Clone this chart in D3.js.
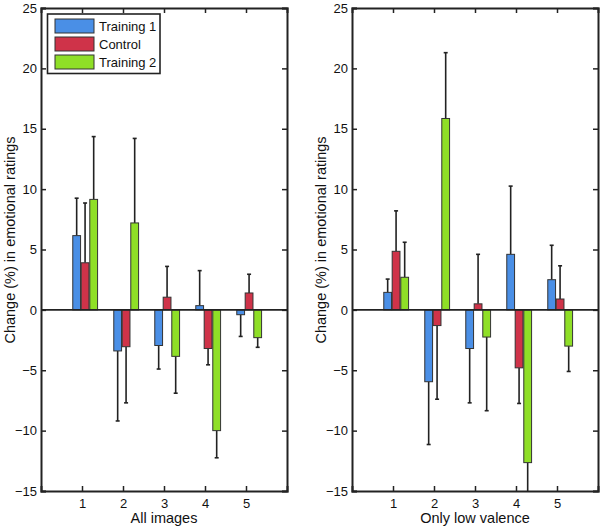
<!DOCTYPE html>
<html><head><meta charset="utf-8">
<script src="https://cdn.jsdelivr.net/npm/d3@7"></script>
<style>
body{margin:0;background:#fff;}
text{font-family:"Liberation Sans",Arial,Helvetica,sans-serif;fill:#111;}
</style></head>
<body><svg id="c" width="600" height="527"></svg>
<script>
const categories = [1, 2, 3, 4, 5];
const seriesNames = ["Training 1", "Control", "Training 2"];
const seriesColors = ["#4a8fe6", "#cf3349", "#8fdf27"];
const yTicks = [-15, -10, -5, 0, 5, 10, 15, 20, 25];

// Panel 1: All images
const allTraining1 = [6.15, -3.4, -2.95, 0.35, -0.4];
const allControl   = [3.9, -3.05, 1.05, -3.2, 1.4];
const allTraining2 = [9.15, 7.2, -3.85, -10.0, -2.3];
const allTraining1Err = [3.1, 5.8, 1.95, 2.9, 1.8];
const allControlErr   = [4.95, 4.65, 2.55, 1.35, 1.55];
const allTraining2Err = [5.2, 7.0, 3.05, 2.25, 0.8];

// Panel 2: Only low valence
const lowTraining1 = [1.45, -5.95, -3.2, 4.6, 2.5];
const lowControl   = [4.85, -1.3, 0.5, -4.8, 0.9];
const lowTraining2 = [2.7, 15.85, -2.25, -12.65, -3.0];
const lowTraining1Err = [1.1, 5.2, 4.5, 5.65, 2.85];
const lowControlErr   = [3.35, 6.1, 4.1, 2.95, 2.75];
const lowTraining2Err = [2.9, 5.45, 6.1, 4.5, 2.1];

const panels = [
  {x0: 41, x1: 287, label: "All images",
   vals: [allTraining1, allControl, allTraining2],
   errs: [allTraining1Err, allControlErr, allTraining2Err], legend: true},
  {x0: 352, x1: 598, label: "Only low valence",
   vals: [lowTraining1, lowControl, lowTraining2],
   errs: [lowTraining1Err, lowControlErr, lowTraining2Err], legend: false}
];

const svg = d3.select("#c");
const yTop = 8, yBot = 491;
const y = d3.scaleLinear().domain([-15, 25]).range([yBot, yTop]);
const offsets = [-0.225, -0.02, 0.19];
const barW = 0.19;
const ink = "#222";

panels.forEach((p, pi) => {
  const x = d3.scaleLinear().domain([0, 6]).range([p.x0, p.x1]);
  const g = svg.append("g");
  const clipId = "clip" + pi;
  svg.append("clipPath").attr("id", clipId).append("rect")
    .attr("x", p.x0).attr("y", yTop).attr("width", p.x1 - p.x0).attr("height", yBot - yTop);
  const plot = g.append("g").attr("clip-path", `url(#${clipId})`);

  // error bars (one-sided, away from zero)
  p.vals.forEach((vals, si) => {
    vals.forEach((v, i) => {
      const cx = x(categories[i] + offsets[si] + barW / 2);
      const e = p.errs[si][i];
      const end = v >= 0 ? v + e : v - e;
      plot.append("line").attr("x1", cx).attr("x2", cx)
        .attr("y1", y(v)).attr("y2", y(end))
        .attr("stroke", ink).attr("stroke-width", 1.6);
      plot.append("line").attr("x1", cx - 2).attr("x2", cx + 2)
        .attr("y1", y(end)).attr("y2", y(end))
        .attr("stroke", ink).attr("stroke-width", 1.6);
    });
  });

  // bars
  p.vals.forEach((vals, si) => {
    plot.selectAll(null).data(vals).enter().append("rect")
      .attr("x", (v, i) => x(categories[i] + offsets[si]))
      .attr("width", x(barW) - x(0))
      .attr("y", v => y(Math.max(0, v)))
      .attr("height", v => Math.abs(y(v) - y(0)))
      .attr("fill", seriesColors[si])
      .attr("stroke", "#333").attr("stroke-width", 1);
  });

  // zero baseline
  g.append("line").attr("x1", p.x0).attr("x2", p.x1)
    .attr("y1", y(0)).attr("y2", y(0)).attr("stroke", ink).attr("stroke-width", 1.6);

  // axes
  const axL = d3.axisLeft(y).tickValues(yTicks).tickSize(-5).tickPadding(4).tickFormat(d3.format("d"));
  const axR = d3.axisRight(y).tickValues(yTicks).tickSize(-5).tickFormat("");
  const axB = d3.axisBottom(x).tickValues(categories).tickSize(-5).tickPadding(8).tickFormat(d3.format("d"));
  const axT = d3.axisTop(x).tickValues(categories).tickSize(-5).tickFormat("");
  [[axL, `translate(${p.x0},0)`], [axR, `translate(${p.x1},0)`],
   [axB, `translate(0,${yBot})`], [axT, `translate(0,${yTop})`]].forEach(([ax, tr]) => {
    const a = g.append("g").attr("transform", tr).call(ax);
    a.select(".domain").attr("stroke", ink).attr("stroke-width", 2);
    a.selectAll(".tick line").attr("stroke", ink).attr("stroke-width", 1.5);
    a.selectAll(".tick text").style("font-size", "13px").attr("fill", "#111");
  });

  // labels
  g.append("text").attr("x", (p.x0 + p.x1) / 2).attr("y", 523)
    .attr("text-anchor", "middle").style("font-size", "14.5px").text(p.label);
  g.append("text")
    .attr("transform", `translate(${p.x0 - 26},${240}) rotate(-90)`)
    .attr("text-anchor", "middle").style("font-size", "14.5px")
    .text("Change (%) in emotional ratings");

  if (p.legend) {
    const lg = g.append("g");
    lg.append("rect").attr("x", 47.5).attr("y", 14).attr("width", 112.5).attr("height", 59.5)
      .attr("fill", "#fff").attr("stroke", ink).attr("stroke-width", 1.6);
    seriesNames.forEach((n, si) => {
      const ry = 19 + si * 18;
      lg.append("rect").attr("x", 55).attr("y", ry).attr("width", 39).attr("height", 14)
        .attr("fill", seriesColors[si]).attr("stroke", "#333").attr("stroke-width", 1);
      lg.append("text").attr("x", 99).attr("y", ry + 12)
        .style("font-size", "13px").text(n);
    });
  }
});
</script></body></html>
